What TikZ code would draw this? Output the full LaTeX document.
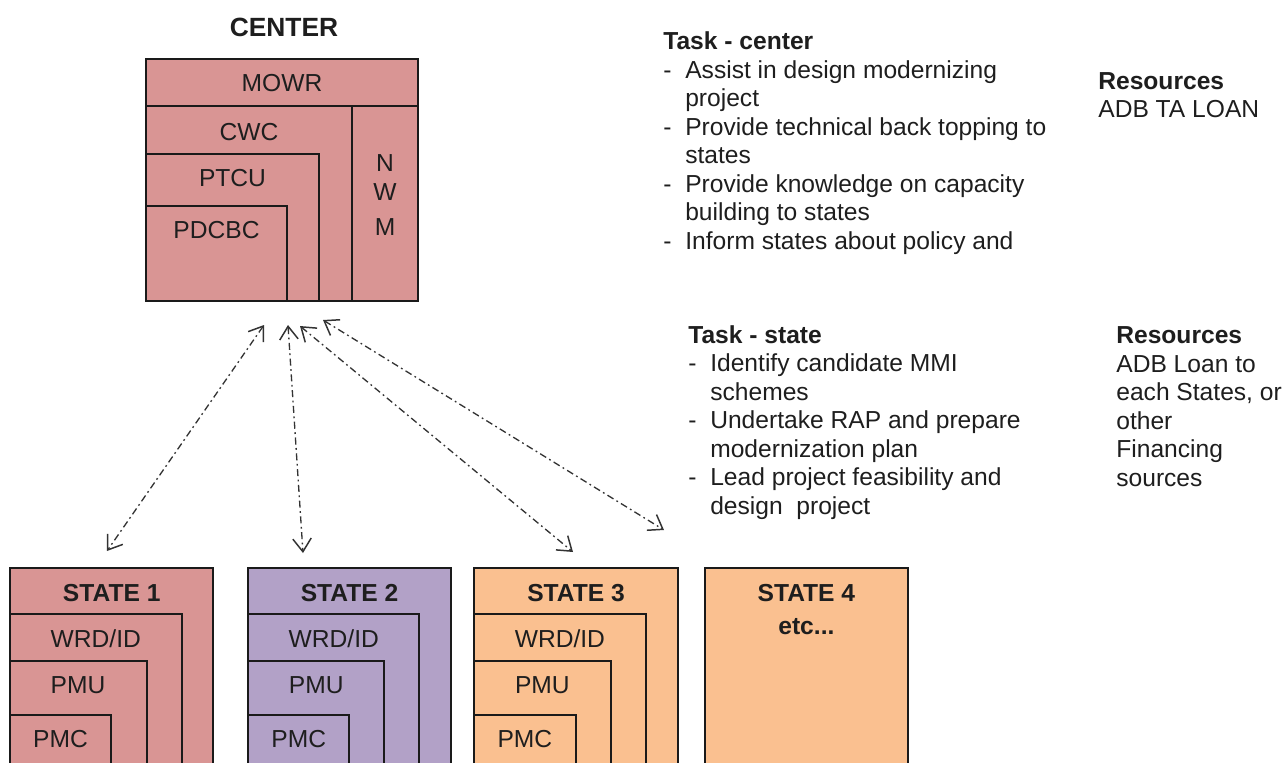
\documentclass[tikz,border=0pt]{standalone}
\usepackage{fontspec}
\setmainfont{Liberation Sans}
\usetikzlibrary{arrows.meta}
\definecolor{centerred}{HTML}{D99594}
\definecolor{statepurple}{HTML}{B2A1C7}
\definecolor{stateorange}{HTML}{FAC090}
\definecolor{framegray}{HTML}{1A1A1A}
\definecolor{linkgray}{HTML}{333333}
\definecolor{textgray}{HTML}{1E1E1E}

% one organisational box: name, fill, x, y (top-left), width, height
\newcommand\orgbox[6]{%
  \node[frame, fill=#2, minimum width={(#5)*0.02cm}, minimum height={(#6)*0.02cm}] (#1) at (#3,#4) {};}

\begin{document}
\begin{tikzpicture}[x=0.02cm, y=-0.02cm,
  frame/.style={draw=framegray, line width=0.95pt, anchor=north west, inner sep=0pt, outer sep=0pt},
  lbl/.style={anchor=base, inner sep=0pt, text=textgray, font=\fontsize{14}{16.2}\selectfont},
  hdr/.style={anchor=base, inner sep=0pt, text=textgray, font=\fontsize{14}{16.2}\selectfont\bfseries},
  % multi-line blocks are placed by the baseline of their last line
  notes/.style={anchor=base west, inner sep=0pt, align=left, text=textgray, font=\fontsize{14}{16.2}\selectfont},
  link/.style={{Straight Barb[length=7.5pt,width=10.5pt,line width=0.85pt]}-{Straight Barb[length=7.5pt,width=10.5pt,line width=0.85pt]},
    draw=linkgray, line width=0.75pt, dash pattern=on 4pt off 2pt on 1pt off 2pt}
]
\useasboundingbox (0,0) rectangle (1286,762);
\clip (0,0) rectangle (1286,762);

% ---- central level ----
\node[hdr, font=\fontsize{15}{18}\selectfont\bfseries] (center) at (284,36.5) {CENTER};
\orgbox{mowr}{centerred}{146}{59}{272}{242}
\orgbox{cwc}{centerred}{146}{105.7}{206}{195}
\orgbox{nwm}{centerred}{352}{105.7}{66}{195}
\orgbox{ptcu}{centerred}{146}{154}{173}{146.7}
\orgbox{pdcbc}{centerred}{146}{205.7}{141.3}{95}
\node[lbl] (tmowr) at (282,91.5) {MOWR};
\node[lbl] (tcwc) at (249,140) {CWC};
\node[lbl] (tptcu) at (232.5,186.7) {PTCU};
\node[lbl] (tpdcbc) at (216.5,238.3) {PDCBC};
\node[lbl] (tn) at (385,171.7) {N};
\node[lbl] (tw) at (385,200) {W};
\node[lbl] (tm) at (385,235) {M};

% ---- state level ----
\orgbox{s1}{centerred}{10}{568.3}{203.3}{212}
\orgbox{wrd1}{centerred}{10}{614.3}{171.7}{166}
\orgbox{pmu1}{centerred}{10}{661}{136.7}{119}
\orgbox{pmc1}{centerred}{10}{715}{101}{65}
\node[hdr] (ts1) at (111.7,601) {STATE 1};
\node[lbl] (twrd1) at (95.8,647.3) {WRD/ID};
\node[lbl] (tpmu1) at (78,693.5) {PMU};
\node[lbl] (tpmc1) at (60.5,747.3) {PMC};

\orgbox{s2}{statepurple}{248.3}{568.3}{202.4}{212}
\orgbox{wrd2}{statepurple}{248.3}{614.3}{171}{166}
\orgbox{pmu2}{statepurple}{248.3}{661}{136}{119}
\orgbox{pmc2}{statepurple}{248.3}{715}{100.7}{65}
\node[hdr] (ts2) at (349.5,601) {STATE 2};
\node[lbl] (twrd2) at (333.8,647.3) {WRD/ID};
\node[lbl] (tpmu2) at (316.3,693.5) {PMU};
\node[lbl] (tpmc2) at (298.7,747.3) {PMC};

\orgbox{s3}{stateorange}{474}{568.3}{204}{212}
\orgbox{wrd3}{stateorange}{474}{614.3}{171.7}{166}
\orgbox{pmu3}{stateorange}{474}{661}{136.7}{119}
\orgbox{pmc3}{stateorange}{474}{715}{101.7}{65}
\node[hdr] (ts3) at (576,601) {STATE 3};
\node[lbl] (twrd3) at (559.9,647.3) {WRD/ID};
\node[lbl] (tpmu3) at (542.4,693.5) {PMU};
\node[lbl] (tpmc3) at (524.9,747.3) {PMC};

\orgbox{s4}{stateorange}{705}{568.3}{202.7}{212}
\node[hdr] (ts4) at (806.4,601) {STATE 4};
\node[hdr] (tetc) at (806.4,634) {etc...};

% ---- links between center and states ----
\coordinate (c1) at (264,325);   \coordinate (e1) at (107,551);
\coordinate (c2) at (288,325);   \coordinate (e2) at (303,553);
\coordinate (c3) at (300,326);   \coordinate (e3) at (573,552);
\coordinate (c4) at (323,320);   \coordinate (e4) at (664,530);
\draw[link] (c1) -- (e1);
\draw[link] (c2) -- (e2);
\draw[link] (c3) -- (e3);
\draw[link] (c4) -- (e4);

% ---- tasks and resources ----
\node[notes] (taskc) at (663,249) {%
  \textbf{Task - center}\\
  \makebox[12.5pt][l]{-}Assist in design modernizing\\
  \hspace*{12.5pt}project\\
  \makebox[12.5pt][l]{-}Provide technical back topping to\\
  \hspace*{12.5pt}states\\
  \makebox[12.5pt][l]{-}Provide knowledge on capacity\\
  \hspace*{12.5pt}building to states\\
  \makebox[12.5pt][l]{-}Inform states about policy and};
\node[notes] (resc) at (1098,117.6) {\textbf{Resources}\\ADB TA LOAN};

\node[notes] (tasks) at (688,514) {%
  \textbf{Task - state}\\
  \makebox[12.5pt][l]{-}Identify candidate MMI\\
  \hspace*{12.5pt}schemes\\
  \makebox[12.5pt][l]{-}Undertake RAP and prepare\\
  \hspace*{12.5pt}modernization plan\\
  \makebox[12.5pt][l]{-}Lead project feasibility and\\
  \hspace*{12.5pt}design\ \ project};
\node[notes] (ress) at (1116,486) {\textbf{Resources}\\ADB Loan to\\each States, or\\other\\Financing\\sources};
\end{tikzpicture}
\end{document}
